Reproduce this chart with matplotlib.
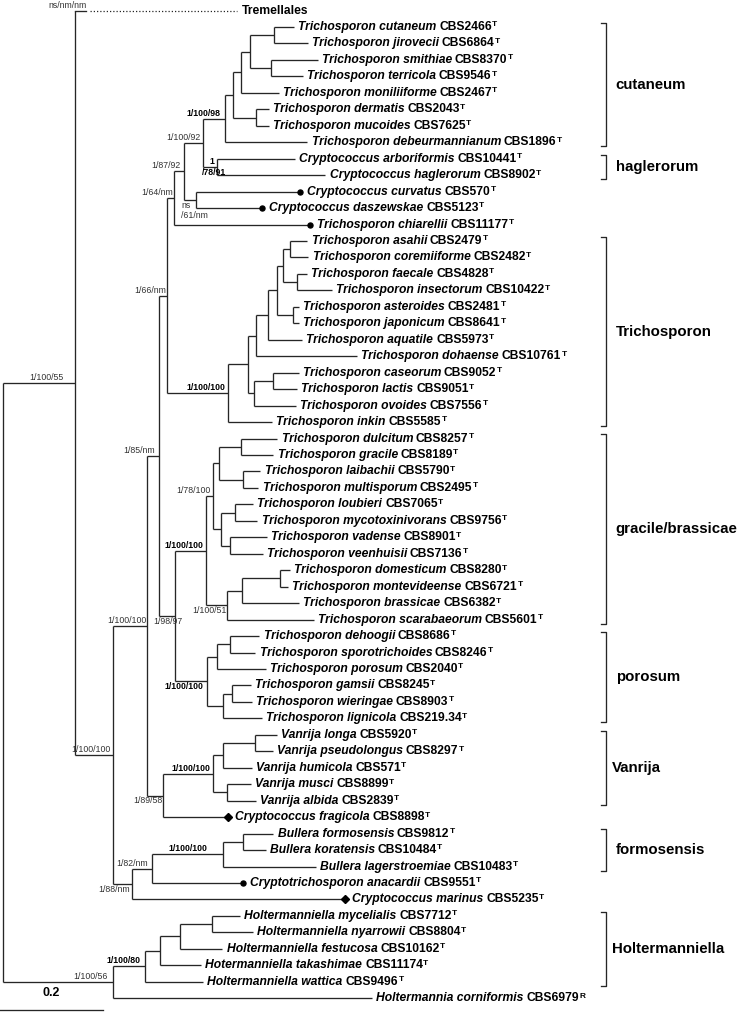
import matplotlib
matplotlib.use("Agg")
import matplotlib.pyplot as plt
from matplotlib.collections import LineCollection

plt.rcParams["font.family"] = ["Liberation Sans", "DejaVu Sans"]

# tree edges (node, parent, branch length), listed top to bottom
EDGES_BACKBONE = [
    ("root", None, 0.0), ("A", "root", 0.140), ("Tremellales", "A", 0.315),
    ("B", "A", 0.074), ("C", "B", 0.066), ("K", "C", 0.023), ("L", "K", 0.016),
    ("M", "L", 0.014), ("N184", "M", 0.019),
]
EDGES_CUTANEUM = [
    ("N203", "N184", 0.037), ("N225", "N203", 0.043), ("N232", "N225", 0.014),
    ("N241", "N232", 0.017), ("N249", "N241", 0.016), ("N273", "N249", 0.047),
    ("cutaneum", "N273", 0.039), ("jirovecii", "N273", 0.066),
    ("N270", "N249", 0.041), ("smithiae", "N270", 0.091), ("terricola", "N270", 0.062),
    ("moniliiforme", "N241", 0.072), ("N255", "N232", 0.045),
    ("dermatis", "N255", 0.025), ("mucoides", "N255", 0.025),
    ("debeurmannianum", "N225", 0.159), ("N217", "N203", 0.027),
    ("arboriformis", "N217", 0.151), ("haglerorum", "N217", 0.210),
    ("N196", "N184", 0.023), ("curvatus", "N196", 0.202), ("daszewskae", "N196", 0.128),
    ("chiarellii", "M", 0.264),
]
EDGES_TRICHOSPORON = [
    ("T0", "L", 0.117), ("T1", "T0", 0.039), ("T2", "T1", 0.017), ("T3", "T2", 0.023),
    ("T4", "T3", 0.017), ("T5", "T4", 0.012), ("T6", "T5", 0.014),
    ("asahii", "T6", 0.033), ("coremiiforme", "T6", 0.035), ("T7", "T5", 0.027),
    ("faecale", "T7", 0.019), ("insectorum", "T7", 0.068), ("T8", "T4", 0.031),
    ("asteroides", "T8", 0.012), ("japonicum", "T8", 0.012), ("aquatile", "T3", 0.066),
    ("dohaense", "T2", 0.196), ("T9", "T1", 0.012), ("T10", "T9", 0.037),
    ("caseorum", "T10", 0.050), ("lactis", "T10", 0.047), ("ovoides", "T9", 0.082),
    ("inkin", "T0", 0.087),
]
EDGES_GRACILE = [
    ("P", "K", 0.031), ("G0", "P", 0.060), ("G1", "G0", 0.014), ("G2", "G1", 0.012),
    ("G3", "G2", 0.043), ("dulcitum", "G3", 0.070), ("gracile", "G3", 0.062),
    ("G4", "G2", 0.047), ("laibachii", "G4", 0.033), ("multisporum", "G4", 0.029),
    ("G5", "G1", 0.016), ("G6", "G5", 0.027), ("loubieri", "G6", 0.035),
    ("mycotoxinivorans", "G6", 0.043), ("G7", "G5", 0.016), ("vadense", "G7", 0.072),
    ("veenhuisii", "G7", 0.064), ("G8", "G0", 0.041), ("G9", "G8", 0.029),
    ("G10", "G9", 0.074), ("domesticum", "G10", 0.019), ("montevideense", "G10", 0.016),
    ("brassicae", "G9", 0.111), ("scarabaeorum", "G8", 0.169),
]
EDGES_POROSUM = [
    ("P0", "P", 0.062), ("P1", "P0", 0.019), ("P2", "P1", 0.025),
    ("dehoogii", "P2", 0.058), ("sporotrichoides", "P2", 0.050), ("porosum", "P1", 0.095),
    ("P3", "P0", 0.031), ("P4", "P3", 0.017), ("gamsii", "P4", 0.037),
    ("wieringae", "P4", 0.039), ("lignicola", "P3", 0.076),
]
EDGES_VANRIJA = [
    ("V0", "C", 0.031), ("V1", "V0", 0.097), ("V2", "V1", 0.019), ("V3", "V2", 0.062),
    ("longa", "V3", 0.043), ("pseudolongus", "V3", 0.035), ("humicola", "V2", 0.056),
    ("V4", "V1", 0.027), ("musci", "V4", 0.047), ("albida", "V4", 0.056),
    ("fragicola", "V0", 0.126),
]
EDGES_FORMOSENSIS = [
    ("D", "B", 0.037), ("E", "D", 0.039), ("F", "E", 0.138), ("Gb", "F", 0.039),
    ("formosensis", "Gb", 0.058), ("koratensis", "Gb", 0.043),
    ("lagerstroemiae", "F", 0.179), ("anacardii", "E", 0.177), ("marinus", "D", 0.414),
]
EDGES_HOLTERMANNIELLA = [
    ("H", "root", 0.214), ("H1", "H", 0.062), ("H2", "H1", 0.029), ("H3", "H2", 0.039),
    ("H4", "H3", 0.062), ("mycelialis", "H4", 0.054), ("nyarrowii", "H4", 0.080),
    ("festucosa", "H3", 0.082), ("takashimae", "H2", 0.080), ("wattica", "H1", 0.113),
    ("corniformis", "H", 0.503),
]

TIP_KEYS = ["cutaneum", "jirovecii", "smithiae", "terricola", "moniliiforme", "dermatis",
            "mucoides", "debeurmannianum", "arboriformis", "haglerorum", "curvatus",
            "daszewskae", "chiarellii", "asahii", "coremiiforme", "faecale", "insectorum",
            "asteroides", "japonicum", "aquatile", "dohaense", "caseorum", "lactis",
            "ovoides", "inkin", "dulcitum", "gracile", "laibachii", "multisporum",
            "loubieri", "mycotoxinivorans", "vadense", "veenhuisii", "domesticum",
            "montevideense", "brassicae", "scarabaeorum", "dehoogii", "sporotrichoides",
            "porosum", "gamsii", "wieringae", "lignicola", "longa", "pseudolongus",
            "humicola", "musci", "albida", "fragicola", "formosensis", "koratensis",
            "lagerstroemiae", "anacardii", "marinus", "mycelialis", "nyarrowii",
            "festucosa", "takashimae", "wattica", "corniformis"]
TIP_GENUS = ["Trichosporon"] * 8 + ["Cryptococcus"] * 4 + ["Trichosporon"] * 31 \
    + ["Vanrija"] * 5 + ["Cryptococcus"] + ["Bullera"] * 3 \
    + ["Cryptotrichosporon", "Cryptococcus"] + ["Holtermanniella"] * 3 \
    + ["Hotermanniella", "Holtermanniella", "Holtermannia"]
TIP_STRAIN = ["CBS2466", "CBS6864", "CBS8370", "CBS9546", "CBS2467", "CBS2043", "CBS7625",
              "CBS1896", "CBS10441", "CBS8902", "CBS570", "CBS5123", "CBS11177", "CBS2479",
              "CBS2482", "CBS4828", "CBS10422", "CBS2481", "CBS8641", "CBS5973", "CBS10761",
              "CBS9052", "CBS9051", "CBS7556", "CBS5585", "CBS8257", "CBS8189", "CBS5790",
              "CBS2495", "CBS7065", "CBS9756", "CBS8901", "CBS7136", "CBS8280", "CBS6721",
              "CBS6382", "CBS5601", "CBS8686", "CBS8246", "CBS2040", "CBS8245", "CBS8903",
              "CBS219.34", "CBS5920", "CBS8297", "CBS571", "CBS8899", "CBS2839", "CBS8898",
              "CBS9812", "CBS10484", "CBS10483", "CBS9551", "CBS5235", "CBS7712", "CBS8804",
              "CBS10162", "CBS11174", "CBS9496", "CBS6979"]
REFERENCE_TIPS = ["corniformis"]          # marked R instead of T
DOT_TIPS = ["curvatus", "daszewskae", "chiarellii", "anacardii"]
DIAMOND_TIPS = ["fragicola", "marinus"]

SUPPORT_NODES = ["A", "H", "H1", "B", "C", "D", "E", "F", "V0", "V1", "K", "L", "M",
                 "N184", "N196", "N203", "N217", "N225", "T0", "P", "G0", "G1", "G8", "P0"]
SUPPORT_TEXT = ["1/100/55", "1/100/56", "1/100/80", "1/100/100", "1/100/100", "1/88/nm",
                "1/82/nm", "1/100/100", "1/89/58", "1/100/100", "1/85/nm", "1/66/nm",
                "1/64/nm", "1/87/92", "ns\n/61/nm", "1/100/92", "1\n/78/91", "1/100/98",
                "1/100/100", "1/98/97", "1/100/100", "1/78/100", "1/100/51", "1/100/100"]
BOLD_NODES = ["H1", "F", "V1", "N217", "N225", "T0", "G0", "P0"]
OUTGROUP_SUPPORT = "ns/nm/nm"

CLADE_NAMES = ["cutaneum", "haglerorum", "Trichosporon", "gracile/brassicae", "porosum",
               "Vanrija", "formosensis", "Holtermanniella"]
CLADE_FIRST = ["cutaneum", "arboriformis", "asahii", "dulcitum", "dehoogii", "longa",
               "formosensis", "mycelialis"]
CLADE_LAST = ["debeurmannianum", "haglerorum", "inkin", "scarabaeorum", "lignicola",
              "albida", "lagerstroemiae", "wattica"]

SCALE_LENGTH = 0.2

# ---- build tree layout ----
edges = (EDGES_BACKBONE + EDGES_CUTANEUM + EDGES_TRICHOSPORON + EDGES_GRACILE
         + EDGES_POROSUM + EDGES_VANRIJA + EDGES_FORMOSENSIS + EDGES_HOLTERMANNIELLA)
parent, blen, children = {}, {}, {}
for node, par, bl in edges:
    parent[node] = par
    blen[node] = bl
    children.setdefault(node, [])
    if par is not None:
        children[par].append(node)

depth, row, tips = {}, {}, []


def place(node, d):
    depth[node] = d + blen[node]
    kids = children[node]
    if not kids:
        row[node] = len(tips)
        tips.append(node)
        return
    for k in kids:
        place(k, depth[node])
    row[node] = (row[kids[0]] + row[kids[-1]]) / 2


place("root", 0.0)

# ---- figure ----
fig = plt.figure(figsize=(7.4, 10.15), dpi=100)
ax = fig.add_axes([0, 0, 1, 1])
ax.set_xlim(-0.0058, 1.4311)
ax.set_ylim(61.02, -0.64)
ax.axis("off")

LC = "#262626"
segs = []
for node, kids in children.items():
    if not kids:
        continue
    x = depth[node]
    segs.append([(x, row[kids[0]]), (x, row[kids[-1]])])
    for k in kids:
        if k == "Tremellales":
            continue
        segs.append([(x, row[k]), (depth[k], row[k])])
ax.add_collection(LineCollection(segs, colors=LC, linewidths=0.95))

# truncated outgroup branch
xa, yt = depth["A"], row["Tremellales"]
ax.plot([xa, xa + 0.022], [yt, yt], color=LC, lw=0.95)
ax.plot([xa + 0.028, depth["Tremellales"]], [yt, yt], color=LC, lw=0.9,
        linestyle=(0, (1, 1.6)))
ax.annotate("Tremellales", (depth["Tremellales"], yt), xytext=(3, 0),
            textcoords="offset points", ha="left", va="center",
            fontsize=8.7, fontweight="bold")
ax.annotate(OUTGROUP_SUPPORT, (xa, yt), xytext=(8, 0.4), textcoords="offset points",
            ha="right", va="bottom", fontsize=6.3, color="#333333")

# tip markers
for k in DOT_TIPS:
    ax.plot(depth[k], row[k], "o", color="black", ms=3.6)
for k in DIAMOND_TIPS:
    ax.plot(depth[k], row[k], "D", color="black", ms=3.8)

# tip labels
TIP_FS = 8.7
for key in tips:
    if key == "Tremellales":
        continue
    i = TIP_KEYS.index(key)
    gap = 5 if key in DOT_TIPS + DIAMOND_TIPS else 3
    t1 = ax.annotate(f"{TIP_GENUS[i]} {key}", (depth[key], row[key]), xytext=(gap, 0),
                     textcoords="offset points", ha="left", va="center",
                     fontsize=TIP_FS, fontstyle="italic", fontweight="bold")
    t2 = ax.annotate(TIP_STRAIN[i], xy=(1, 0), xycoords=t1, xytext=(2.0, 0),
                     textcoords="offset points", ha="left", va="bottom",
                     fontsize=TIP_FS, fontweight="bold")
    sup = "R" if key in REFERENCE_TIPS else "T"
    ax.annotate(sup, xy=(1, 1), xycoords=t2, xytext=(0.2, -0.3),
                textcoords="offset points", ha="left", va="top",
                fontsize=6.0, fontweight="bold")

# support values (gaps in pixels from the node)
PT = 0.72
label_gap = {"A": 12, "H": 6, "H1": 5, "B": 3, "C": 1, "D": 2, "E": 4, "F": 16, "V0": 1,
             "V1": 3, "K": 4, "L": 1, "M": 1, "N184": 4, "N203": 3, "N225": 5, "T0": 2,
             "G0": 3, "G1": 3, "G8": 0, "P0": 4}
below = {"D", "V0", "G8", "P0"}
under = {"N196": 3, "P": 6}
for node, text in zip(SUPPORT_NODES, SUPPORT_TEXT):
    fw = "bold" if node in BOLD_NODES else "normal"
    col = "black" if node in BOLD_NODES else "#333333"
    kw = dict(textcoords="offset points", fontsize=6.3, fontweight=fw, color=col)
    x, y = depth[node], row[node]
    xp = depth[parent[node]]
    if node == "N217":
        top, bottom = text.split("\n")
        ax.annotate(top, (x, y), xytext=(-3 * PT, 0.5), ha="right", va="bottom", **kw)
        ax.annotate(bottom, (xp, y), xytext=(-1 * PT, -0.5), ha="left", va="top", **kw)
    elif node in under:
        ax.annotate(text, (xp, y), xytext=(-under[node] * PT, -0.5), ha="left",
                    va="top", linespacing=1.25, **kw)
    elif node in below:
        ax.annotate(text, (x, y), xytext=(-label_gap[node] * PT, -0.5), ha="right",
                    va="top", **kw)
    else:
        ax.annotate(text, (x, y), xytext=(-label_gap[node] * PT, 0.6), ha="right",
                    va="bottom", **kw)

# clade brackets
BX = 1.171
for name, first, last in zip(CLADE_NAMES, CLADE_FIRST, CLADE_LAST):
    y0, y1 = row[first] - 0.25, row[last] + 0.25
    ax.plot([BX - 0.0095, BX, BX, BX - 0.0095], [y0, y0, y1, y1], color=LC, lw=0.95)
    off = 4 if name in ("Vanrija", "Holtermanniella") else 7
    ax.annotate(name, (BX, (y0 + y1) / 2), xytext=(off, 0), textcoords="offset points",
                ha="left", va="center", fontsize=10.8, fontweight="bold")

# scale bar
x0 = ax.get_xlim()[0]
ax.plot([x0, x0 + SCALE_LENGTH], [60.72, 60.72], color=LC, lw=0.95)
ax.text(x0 + SCALE_LENGTH / 2, 59.7, f"{SCALE_LENGTH:g}", ha="center", va="center",
        fontsize=9, fontweight="bold")

fig.savefig("out.png", dpi=100)
